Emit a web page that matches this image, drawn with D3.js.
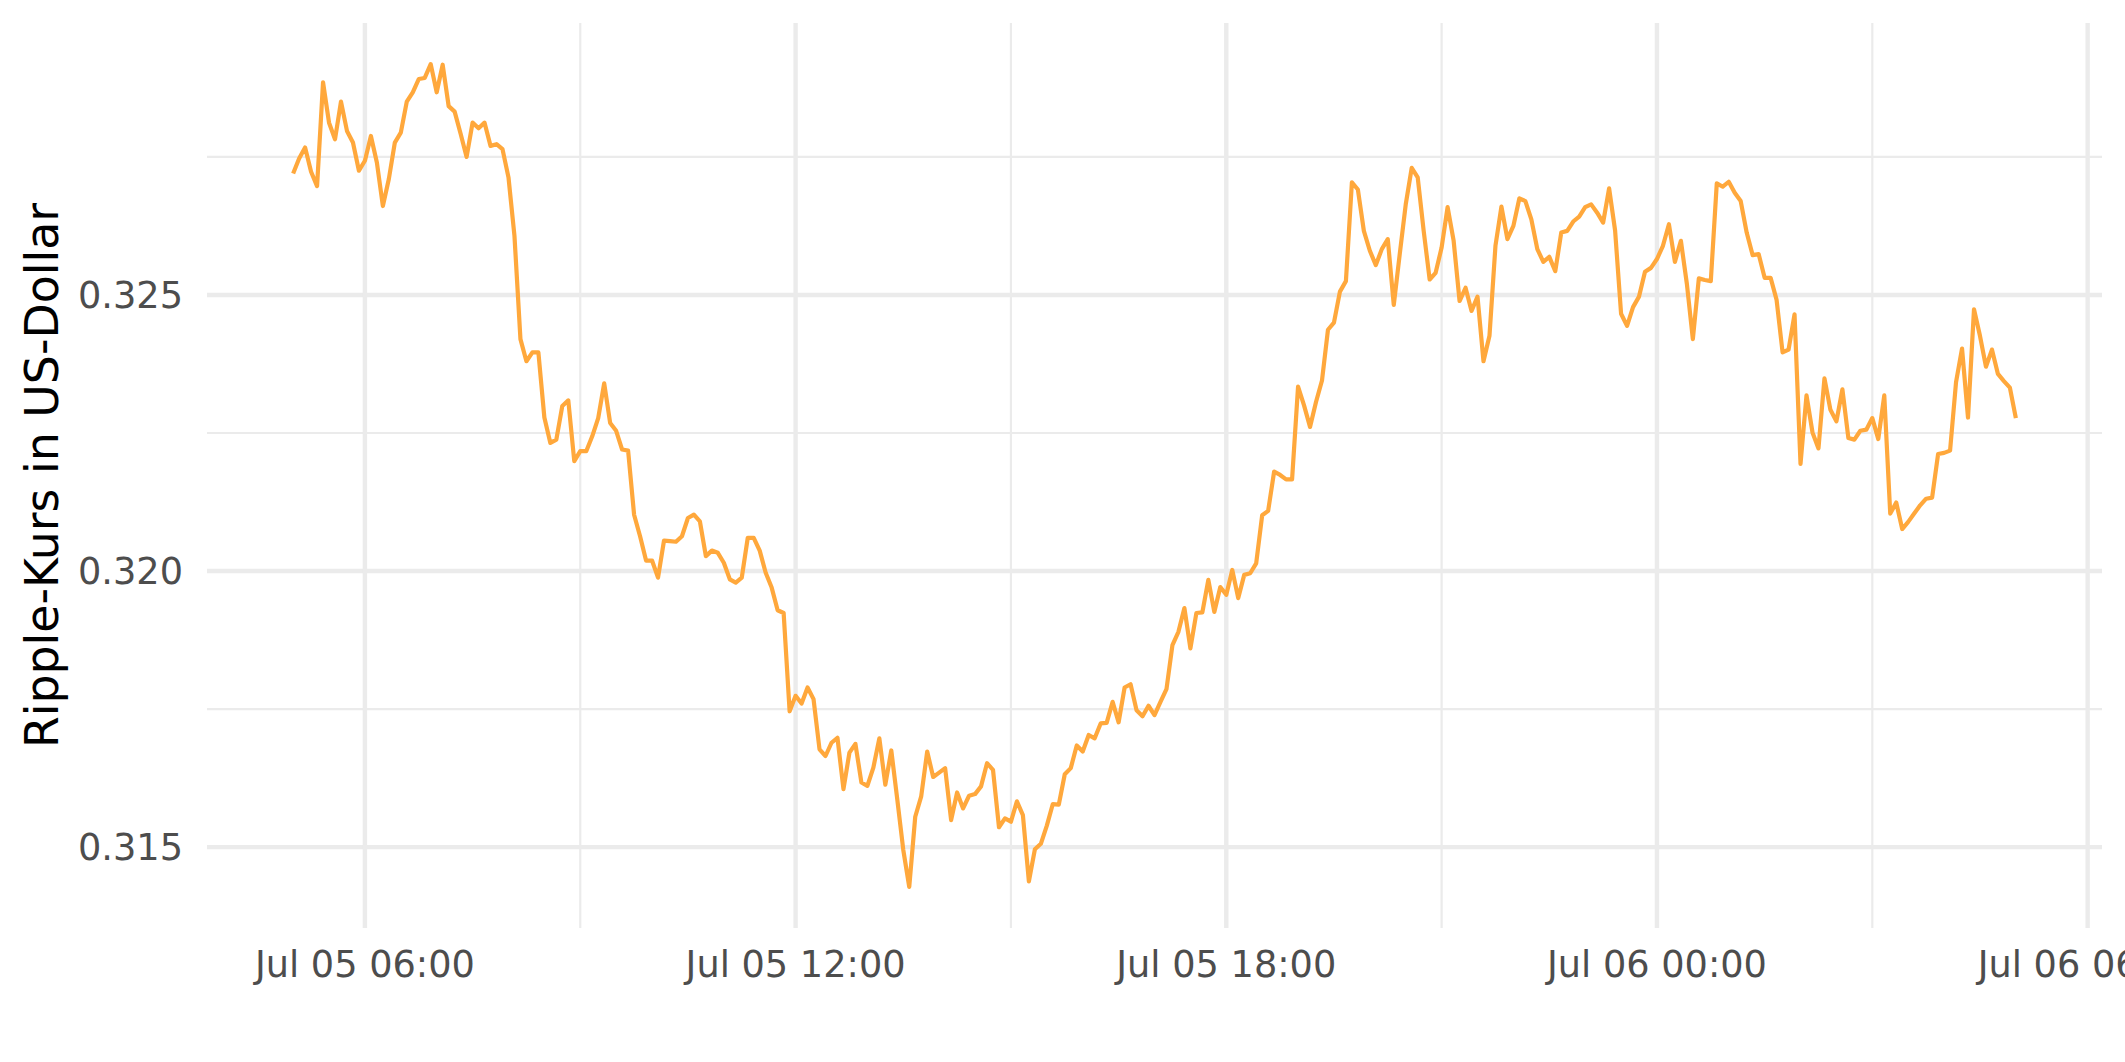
<!DOCTYPE html>
<html>
<head>
<meta charset="utf-8">
<script src="https://cdn.jsdelivr.net/npm/d3@7"></script>
<style>
  html, body { margin: 0; padding: 0; background: #ffffff; }
  svg { display: block; }
</style>
</head>
<body>
<svg id="chart" width="2125" height="1062"></svg>
<script>
// ---------------- data ----------------
const startTime = "2022-07-05T05:00:00Z";   // first observation
const intervalMinutes = 5;                   // spacing between observations

const priceValues = [
  0.32720, 0.32747, 0.32767, 0.32723, 0.32697, 0.32885, 0.32812, 0.32782, 0.32850, 0.32797,
  0.32776, 0.32725, 0.32743, 0.32788, 0.32740, 0.32661, 0.32710, 0.32776, 0.32794, 0.32850,
  0.32867, 0.32891, 0.32893, 0.32918, 0.32867, 0.32917, 0.32842, 0.32832, 0.32792, 0.32750,
  0.32812, 0.32802, 0.32812, 0.32770, 0.32773, 0.32764, 0.32713, 0.32607, 0.32420, 0.32380,
  0.32396, 0.32396, 0.32278, 0.32232, 0.32238, 0.32299, 0.32309, 0.32199, 0.32217,
  0.32217, 0.32244, 0.32277, 0.32340, 0.32268, 0.32254, 0.32220, 0.32218, 0.32102, 0.32063,
  0.32019, 0.32019, 0.31988, 0.32055, 0.32054, 0.32053, 0.32063, 0.32096, 0.32102, 0.32090,
  0.32027, 0.32037, 0.32033, 0.32015, 0.31985, 0.31979, 0.31988, 0.32060, 0.32060, 0.32037,
  0.31997, 0.31970, 0.31929, 0.31924, 0.31746, 0.31774, 0.31760, 0.31789, 0.31768, 0.31677,
  0.31665, 0.31689, 0.31698, 0.31605, 0.31671, 0.31687, 0.31617, 0.31611, 0.31644, 0.31697,
  0.31613, 0.31675, 0.31586, 0.31495, 0.31428, 0.31555, 0.31592, 0.31673, 0.31627, 0.31635,
  0.31643, 0.31549, 0.31599, 0.31570, 0.31593, 0.31596, 0.31610, 0.31652, 0.31640, 0.31536,
  0.31552, 0.31546, 0.31583, 0.31558, 0.31438, 0.31496, 0.31506, 0.31539, 0.31578, 0.31577,
  0.31632, 0.31643, 0.31684, 0.31673, 0.31703, 0.31697, 0.31724, 0.31725, 0.31763, 0.31726,
  0.31789, 0.31795, 0.31748, 0.31737, 0.31756, 0.31739, 0.31763, 0.31786, 0.31866,
  0.31890, 0.31933, 0.31860, 0.31924, 0.31925, 0.31984, 0.31926, 0.31971, 0.31957, 0.32002,
  0.31951, 0.31993, 0.31996, 0.32014, 0.32101, 0.32109, 0.32180, 0.32174, 0.32166, 0.32166,
  0.32334, 0.32300, 0.32261, 0.32306, 0.32345, 0.32437, 0.32450, 0.32506, 0.32525, 0.32704,
  0.32691, 0.32616, 0.32580, 0.32554, 0.32583, 0.32601, 0.32482, 0.32574, 0.32664, 0.32730,
  0.32713, 0.32616, 0.32528, 0.32540, 0.32586, 0.32659, 0.32599, 0.32489, 0.32513,
  0.32471, 0.32497, 0.32380, 0.32426, 0.32589, 0.32660, 0.32601, 0.32625, 0.32675, 0.32670,
  0.32637, 0.32583, 0.32560, 0.32569, 0.32543, 0.32613, 0.32616, 0.32633, 0.32642, 0.32659,
  0.32664, 0.32649, 0.32631, 0.32693, 0.32617, 0.32466, 0.32444, 0.32478, 0.32497, 0.32542,
  0.32549, 0.32565, 0.32589, 0.32628, 0.32560, 0.32598, 0.32520, 0.32420, 0.32530, 0.32527,
  0.32525, 0.32702, 0.32696, 0.32705, 0.32685, 0.32670, 0.32613, 0.32572, 0.32574,
  0.32531, 0.32531, 0.32491, 0.32396, 0.32401, 0.32465, 0.32194, 0.32318, 0.32251, 0.32222,
  0.32349, 0.32292, 0.32271, 0.32329, 0.32241, 0.32238, 0.32254, 0.32256, 0.32277, 0.32239,
  0.32318, 0.32104, 0.32124, 0.32076, 0.32089, 0.32104, 0.32119, 0.32131, 0.32133, 0.32212,
  0.32214, 0.32218, 0.32342, 0.32403, 0.32278, 0.32474, 0.32426, 0.32370, 0.32401, 0.32357,
  0.32344, 0.32332, 0.32277
];

const yMajorTicks = [0.315, 0.320, 0.325];
const yMinorTicks = [0.3175, 0.3225, 0.3275];
const yTickLabels = ["0.315", "0.320", "0.325"];
const xMajorTicks = ["2022-07-05T06:00:00Z", "2022-07-05T12:00:00Z", "2022-07-05T18:00:00Z", "2022-07-06T00:00:00Z", "2022-07-06T06:00:00Z"];
const xMinorTicks = ["2022-07-05T09:00:00Z", "2022-07-05T15:00:00Z", "2022-07-05T21:00:00Z", "2022-07-06T03:00:00Z"];
const xTickLabels = ["Jul 05 06:00", "Jul 05 12:00", "Jul 05 18:00", "Jul 06 00:00", "Jul 06 06:00"];
const yAxisTitle = "Ripple-Kurs in US-Dollar";

// ---------------- build ----------------
const t0 = new Date(startTime).getTime();
const data = priceValues.map((v, i) => ({ t: new Date(t0 + i * intervalMinutes * 60000), v }));

const panel = { left: 207, right: 2102, top: 23, bottom: 928 };
const FONT = "'DejaVu Sans', 'Liberation Sans', sans-serif";

function expand(ext, f) { const s = ext[1] - ext[0]; return [ext[0] - s * f, ext[1] + s * f]; }

const xExt = d3.extent(data, d => d.t.getTime());
const x = d3.scaleUtc().domain(expand(xExt, 0.05).map(ms => new Date(ms))).range([panel.left, panel.right]);
const y = d3.scaleLinear().domain(expand(d3.extent(data, d => d.v), 0.05)).range([panel.bottom, panel.top]);

const svg = d3.select("#chart");
svg.append("rect").attr("width", 2125).attr("height", 1062).attr("fill", "#ffffff");

const grid = svg.append("g");
// minor grid
grid.selectAll("line.ymin").data(yMinorTicks).join("line")
  .attr("x1", panel.left).attr("x2", panel.right)
  .attr("y1", d => y(d)).attr("y2", d => y(d))
  .attr("stroke", "#EBEBEB").attr("stroke-width", 2.2);
grid.selectAll("line.xmin").data(xMinorTicks.map(s => new Date(s))).join("line")
  .attr("y1", panel.top).attr("y2", panel.bottom)
  .attr("x1", d => x(d)).attr("x2", d => x(d))
  .attr("stroke", "#EBEBEB").attr("stroke-width", 2.2);
// major grid
grid.selectAll("line.ymaj").data(yMajorTicks).join("line")
  .attr("x1", panel.left).attr("x2", panel.right)
  .attr("y1", d => y(d)).attr("y2", d => y(d))
  .attr("stroke", "#EBEBEB").attr("stroke-width", 4.4);
grid.selectAll("line.xmaj").data(xMajorTicks.map(s => new Date(s))).join("line")
  .attr("y1", panel.top).attr("y2", panel.bottom)
  .attr("x1", d => x(d)).attr("x2", d => x(d))
  .attr("stroke", "#EBEBEB").attr("stroke-width", 4.4);

// line
const line = d3.line().x(d => x(d.t)).y(d => y(d.v));
svg.append("path").datum(data)
  .attr("d", line)
  .attr("fill", "none")
  .attr("stroke", "#FFA83C")
  .attr("stroke-width", 4.2)
  .attr("stroke-linejoin", "round");

// y axis labels
svg.append("g").selectAll("text").data(yMajorTicks).join("text")
  .attr("x", 183).attr("y", d => y(d)).attr("dy", "0.36em")
  .attr("text-anchor", "end")
  .attr("font-family", FONT).attr("font-size", 36.7).attr("fill", "#4D4D4D")
  .text((d, i) => yTickLabels[i]);

// x axis labels
svg.append("g").selectAll("text").data(xMajorTicks.map(s => new Date(s))).join("text")
  .attr("x", d => x(d)).attr("y", 976.5)
  .attr("text-anchor", "middle")
  .attr("font-family", FONT).attr("font-size", 36.7).attr("fill", "#4D4D4D")
  .text((d, i) => xTickLabels[i]);

// y axis title
svg.append("text")
  .attr("transform", `translate(58,${(panel.top + panel.bottom) / 2}) rotate(-90)`)
  .attr("text-anchor", "middle")
  .attr("font-family", FONT).attr("font-size", 45.8).attr("fill", "#000000")
  .text(yAxisTitle);
</script>
</body>
</html>
